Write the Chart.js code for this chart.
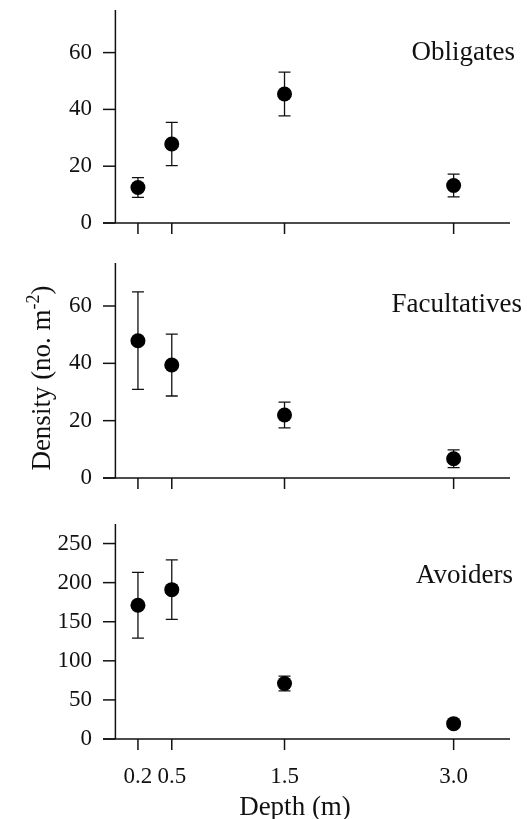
<!DOCTYPE html>
<html>
<head>
<meta charset="utf-8">
<script src="https://cdn.jsdelivr.net/npm/chart.js@4"></script>
<style>
  html, body { margin: 0; padding: 0; background: #fff; }
  #wrap { position: relative; width: 527px; height: 819px; }
  #wrap canvas { position: absolute; left: 0; top: 0; }
</style>
</head>
<body>
<div id="wrap">
  <canvas id="panel-obligates" width="527" height="819"></canvas>
  <canvas id="panel-facultatives" width="527" height="819"></canvas>
  <canvas id="panel-avoiders" width="527" height="819"></canvas>
</div>
<script>
// Depths sampled (m), shared by the three panels
const depths = [0.2, 0.5, 1.5, 3.0];

// Mean density (no. m-2) and error bar half-lengths per group
const obligatesMean = [12.5, 27.8, 45.4, 13.2];
const obligatesErr = [3.5, 7.6, 7.7, 4.0];

const facultativesMean = [47.9, 39.4, 22.0, 6.7];
const facultativesErr = [17.0, 10.8, 4.5, 3.1];

const avoidersMean = [171, 191, 71, 19.6];
const avoidersErr = [42, 38, 9.5, 3];

// Tick labels on the y axes
const yTicksSmall = [0, 20, 40, 60];
const yTicksAvoiders = [0, 50, 100, 150, 200, 250];

const FONT = "'Liberation Serif', 'Times New Roman', serif";

// Axes, tick marks, error bars and the panel name
const panelPlugin = {
    id: 'panelPlugin',
    beforeDatasetsDraw(chart, args, opts) {
        const { ctx, chartArea } = chart;
        const xs = chart.scales.x;
        const ys = chart.scales.y;
        const x0 = xs.getPixelForValue(0);
        const y0 = ys.getPixelForValue(0);

        ctx.save();
        ctx.strokeStyle = '#111';
        ctx.lineWidth = 1.5;

        // x axis line
        ctx.beginPath();
        ctx.moveTo(chartArea.left, y0);
        ctx.lineTo(chartArea.right, y0);
        ctx.stroke();

        // y axis line
        ctx.beginPath();
        ctx.moveTo(x0, y0);
        ctx.lineTo(x0, ys.top);
        ctx.stroke();

        // y tick marks
        ys.ticks.forEach(t => {
            const py = ys.getPixelForValue(t.value);
            ctx.beginPath();
            ctx.moveTo(chartArea.left, py);
            ctx.lineTo(x0, py);
            ctx.stroke();
        });

        // x tick marks
        depths.forEach(d => {
            const px = xs.getPixelForValue(d);
            ctx.beginPath();
            ctx.moveTo(px, y0);
            ctx.lineTo(px, y0 + 11);
            ctx.stroke();
        });

        // error bars
        ctx.lineWidth = 1.3;
        opts.means.forEach((m, i) => {
            const px = xs.getPixelForValue(depths[i]);
            const top = ys.getPixelForValue(m + opts.errs[i]);
            const bot = ys.getPixelForValue(m - opts.errs[i]);
            ctx.beginPath();
            ctx.moveTo(px, top);
            ctx.lineTo(px, bot);
            ctx.moveTo(px - 6, top);
            ctx.lineTo(px + 6, top);
            ctx.moveTo(px - 6, bot);
            ctx.lineTo(px + 6, bot);
            ctx.stroke();
        });

        // panel name
        ctx.fillStyle = '#111';
        ctx.font = '27px ' + FONT;
        ctx.textAlign = 'right';
        ctx.textBaseline = 'alphabetic';
        ctx.fillText(opts.name, chartArea.right + opts.nameDx, chartArea.top + opts.nameDy);
        ctx.restore();
    },
    afterDraw(chart, args, opts) {
        if (!opts.axisTitles) return;
        const { ctx } = chart;
        ctx.save();
        ctx.fillStyle = '#111';
        ctx.textBaseline = 'alphabetic';

        // x axis title
        ctx.font = '27px ' + FONT;
        ctx.textAlign = 'center';
        ctx.fillText('Depth (m)', 295, 815);

        // y axis title with superscript
        const main = 'Density (no. m';
        const sup = '-2';
        const tail = ')';
        ctx.translate(50, 378);
        ctx.rotate(-Math.PI / 2);
        ctx.textAlign = 'left';
        ctx.font = '27px ' + FONT;
        const wMain = ctx.measureText(main).width;
        const wTail = ctx.measureText(tail).width;
        ctx.font = '18px ' + FONT;
        const wSup = ctx.measureText(sup).width;
        let x = -(wMain + wSup + wTail) / 2;
        ctx.font = '27px ' + FONT;
        ctx.fillText(main, x, 0);
        x += wMain;
        ctx.font = '18px ' + FONT;
        ctx.fillText(sup, x, -11);
        x += wSup;
        ctx.font = '27px ' + FONT;
        ctx.fillText(tail, x, 0);
        ctx.restore();
    }
};

function makePanel(id, name, means, errs, yMax, yTicks, padding, showX, nameDx, nameDy, axisTitles) {
    const ctx = document.getElementById(id);
    return new Chart(ctx, {
        type: 'scatter',
        data: {
            datasets: [{
                label: name,
                data: depths.map((d, i) => ({ x: d, y: means[i] })),
                backgroundColor: '#000',
                borderWidth: 0,
                pointRadius: 7.5,
                pointHoverRadius: 7.5,
                clip: false
            }]
        },
        options: {
            responsive: false,
            animation: false,
            devicePixelRatio: 1,
            layout: { padding: padding },
            plugins: {
                legend: { display: false },
                tooltip: { enabled: false },
                panelPlugin: { name, means, errs, nameDx, nameDy, axisTitles }
            },
            scales: {
                x: {
                    type: 'linear',
                    min: -0.11,
                    max: 3.5,
                    display: showX,
                    grid: { display: false, drawTicks: false },
                    border: { display: false },
                    afterBuildTicks: axis => {
                        axis.ticks = depths.map(v => ({ value: v }));
                    },
                    afterFit: s => {
                        s.height = showX ? 80 : 0;
                        s.paddingLeft = 0;
                        s.paddingRight = 0;
                    },
                    ticks: {
                        autoSkip: false,
                        maxRotation: 0,
                        padding: 24,
                        color: '#111',
                        font: { family: FONT, size: 23 },
                        callback: v => Number(v).toFixed(1)
                    }
                },
                y: {
                    min: 0,
                    max: yMax,
                    grid: { display: false, drawTicks: false },
                    border: { display: false },
                    afterBuildTicks: axis => {
                        axis.ticks = yTicks.map(v => ({ value: v }));
                    },
                    afterFit: s => {
                        s.width = 103;
                        s.paddingTop = 0;
                        s.paddingBottom = 0;
                    },
                    ticks: {
                        padding: 11,
                        color: '#111',
                        font: { family: FONT, size: 23 }
                    }
                }
            }
        },
        plugins: [panelPlugin]
    });
}

makePanel('panel-obligates', 'Obligates', obligatesMean, obligatesErr, 75, yTicksSmall,
    { top: 10, bottom: 596, left: 0, right: 17 }, false, 5, 50, false);
makePanel('panel-facultatives', 'Facultatives', facultativesMean, facultativesErr, 75, yTicksSmall,
    { top: 263, bottom: 341, left: 0, right: 17 }, false, 12, 49, false);
makePanel('panel-avoiders', 'Avoiders', avoidersMean, avoidersErr, 275, yTicksAvoiders,
    { top: 524, bottom: 0, left: 0, right: 17 }, true, 3, 59, true);
</script>
</body>
</html>
